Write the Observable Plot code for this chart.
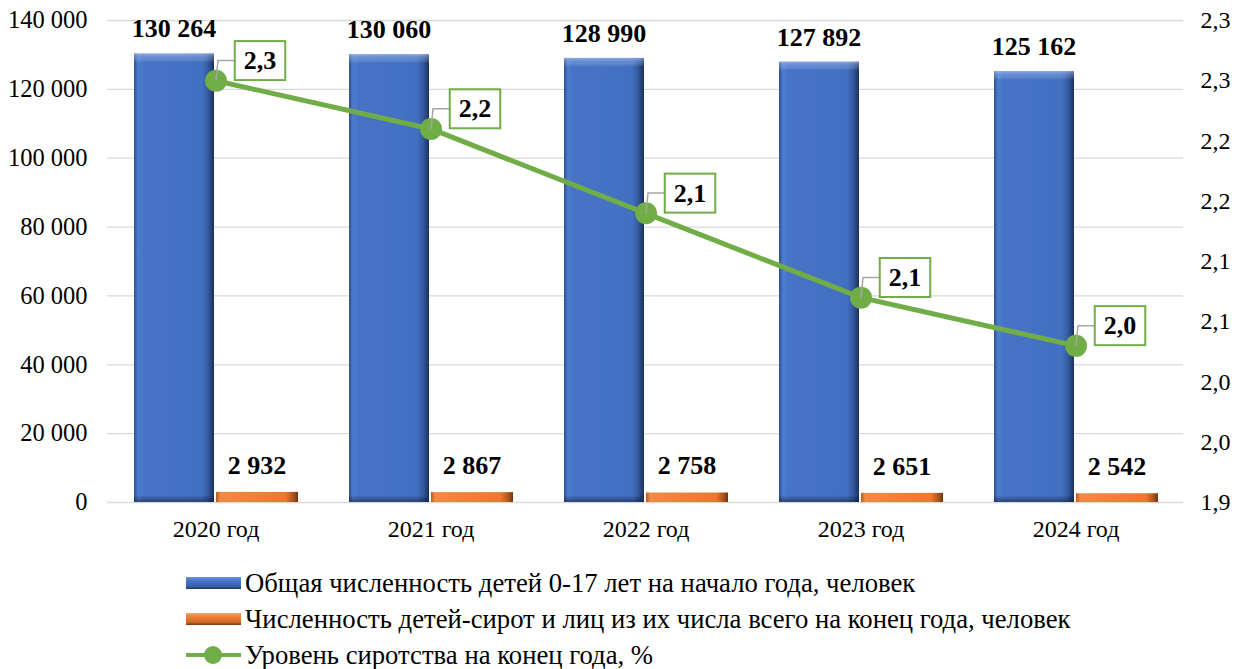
<!DOCTYPE html>
<html><head><meta charset="utf-8">
<script src="https://cdn.jsdelivr.net/npm/d3@7"></script>
<script src="https://cdn.jsdelivr.net/npm/@observablehq/plot@0.6"></script>
<style>
body{margin:0;background:#fff;font-family:"Liberation Serif","Times New Roman",serif;}
#chart svg{display:block;}
#chart svg, #chart svg text{font-family:"Liberation Serif","Times New Roman",serif !important;}
#legend{margin-top:5px;margin-left:186px;}
.row{display:flex;align-items:center;height:36px;font-size:26.7px;color:#000;white-space:nowrap;}
.sw{width:55px;height:12px;margin-right:4px;box-sizing:border-box;flex:none;}
.swb{background:linear-gradient(to bottom,#6a93db 0%,#4472C4 35%,#3a63ad 75%,#1F3864 100%);}
.swo{background:linear-gradient(to bottom,#f4a36c 0%,#ED7D31 35%,#d46a22 75%,#7a3a10 100%);}
.swl{width:55px;height:22px;margin-right:4px;position:relative;flex:none;}
.swl:before{content:"";position:absolute;left:0;right:0;top:9px;height:4px;background:#70AD47;}
.swl:after{content:"";position:absolute;left:18px;top:2px;width:18px;height:18px;border-radius:50%;background:#70AD47;}
</style></head><body>
<div id="chart"></div>
<div id="legend"></div>
<script>
const years = ["2020 год","2021 год","2022 год","2023 год","2024 год"];
const totalChildren = [130264,130060,128990,127892,125162];
const orphans = [2932,2867,2758,2651,2542];
const orphanRate = [2.25,2.21,2.14,2.07,2.03];
const rateLabels = ["2,3","2,2","2,1","2,1","2,0"];
const leftTicks = [0,20000,40000,60000,80000,100000,120000,140000];
const rightTicks = [1.9,1.95,2.0,2.05,2.1,2.15,2.2,2.25,2.3];
const rightTickLabels = ["1,9","2,0","2,0","2,1","2,1","2,2","2,2","2,3","2,3"];
const seriesNames = [
  "Общая численность детей 0-17 лет на начало года, человек",
  "Численность детей-сирот и лиц из их числа всего на конец года, человек",
  "Уровень сиротства на конец года, %"
];

const yMax = 140000, rMin = 1.9, rMax = 2.3;
const toLeft = r => (r - rMin) / (rMax - rMin) * yMax;
const loc = d3.formatLocale({decimal:",", thousands:" ", grouping:[3], currency:["",""]});
const fmt = loc.format(",");

const data = years.map((y,i)=>({year:y,total:totalChildren[i],orph:orphans[i],rate:orphanRate[i],rl:rateLabels[i]}));
const rightMap = new Map(rightTicks.map((t,i)=>[toLeft(t), rightTickLabels[i]]));

const chart = Plot.plot({
  width:1251, height:560,
  marginLeft:107, marginRight:68, marginTop:20, marginBottom:58,
  style:{fontFamily:"'Liberation Serif','Times New Roman',serif", fontSize:"24px", color:"#000", background:"#fff"},
  x:{type:"band", domain:years, padding:0, label:null},
  y:{domain:[0,yMax], label:null},
  marks:[
    Plot.gridY(leftTicks,{stroke:"#D9D9D9", strokeOpacity:1, strokeWidth:1.3}),
    Plot.axisY(leftTicks,{anchor:"left", tickFormat:fmt, tickSize:0, tickPadding:20, label:null, fontSize:24.5}),
    Plot.axisY(rightTicks.map(toLeft),{anchor:"right", tickFormat:d=>rightMap.get(d), tickSize:0, tickPadding:17, label:null, fontSize:24, textAnchor:"start"}),
    Plot.axisX({tickSize:0, tickPadding:17, label:null, fontSize:24}),
    Plot.barY(data,{x:"year", y:"total", fill:"url(#gradBlue)", insetLeft:26, insetRight:109}),
    Plot.barY(data,{x:"year", y:"total", fill:"url(#gradBlueV)", insetLeft:26, insetRight:109}),
    Plot.barY(data,{x:"year", y:"orph", fill:"url(#gradOrange)", insetLeft:108, insetRight:25}),
    Plot.text(data,{x:"year", y:"total", text:d=>fmt(d.total), dx:-42, dy:-25, fontWeight:"bold", fontSize:26}),
    Plot.text(data,{x:"year", y:"orph", text:d=>fmt(d.orph), dx:41, dy:-27, fontWeight:"bold", fontSize:26}),
    Plot.line(data,{x:"year", y:d=>toLeft(d.rate), stroke:"#70AD47", strokeWidth:5}),
    Plot.dot(data,{x:"year", y:d=>toLeft(d.rate), r:11, fill:"#70AD47", className:"ratedots"}),
    Plot.text(data,{x:"year", y:d=>toLeft(d.rate), text:"rl", dx:44, dy:-20, fontWeight:"bold", fontSize:26, className:"ratelbl"})
  ]
});

const svg = d3.select(chart);
const defs = svg.insert("defs",":first-child");
function grad(id, stops, vertical){
  const g = defs.append("linearGradient").attr("id",id).attr("x1","0").attr("x2",vertical?"0":"1").attr("y1","0").attr("y2",vertical?"1":"0");
  stops.forEach(([o,c,op])=>g.append("stop").attr("offset",o).attr("stop-color",c).attr("stop-opacity",op==null?1:op));
}
grad("gradBlue",[[0,"#2d4f8e"],[0.05,"#4e7dd0"],[0.12,"#4773c6"],[0.85,"#4270c0"],[0.93,"#33589c"],[1,"#1b2f5a"]]);
grad("gradBlueV",[[0,"#c8d8f8",0.55],[0.008,"#9fbaf0",0.35],[0.02,"#ffffff",0],[0.985,"#000000",0],[1,"#0d1a33",0.5]],true);
grad("gradOrange",[[0,"#b85a1c"],[0.05,"#f08a44"],[0.85,"#e87a2e"],[0.95,"#a8521a"],[1,"#6e3510"]]);

document.getElementById("chart").appendChild(chart);

// boxes and leader lines for rate labels
const svgRect = chart.getBoundingClientRect();
const dots = Array.from(chart.querySelectorAll("g.ratedots circle"));
const texts = Array.from(chart.querySelectorAll("g.ratelbl text"));
const overlay = svg.append("g");
texts.forEach((t,i)=>{
  const r = t.getBoundingClientRect();
  const bx = r.left - svgRect.left - 9, by = r.top - svgRect.top - 5;
  const bw = r.width + 18, bh = r.height + 10;
  const dr = dots[i].getBoundingClientRect();
  const px = dr.left + dr.width/2 - svgRect.left, py = dr.top + dr.height/2 - svgRect.top;
  const cy = by + bh/2;
  overlay.append("path").attr("d",`M${px},${py}L${px+2},${cy}L${bx},${cy}`).attr("fill","none").attr("stroke","#A6A6A6").attr("stroke-width",1.5);
  overlay.append("rect").attr("x",bx).attr("y",by).attr("width",bw).attr("height",bh).attr("fill","#fff").attr("stroke","#70AD47").attr("stroke-width",2);
});
chart.appendChild(chart.querySelector("g.ratelbl"));

// legend
const leg = d3.select("#legend");
const cls = ["sw swb","sw swo","swl"];
seriesNames.forEach((n,i)=>{
  const row = leg.append("div").attr("class","row");
  row.append("div").attr("class",cls[i]);
  row.append("span").text(n);
});
</script>
</body></html>
